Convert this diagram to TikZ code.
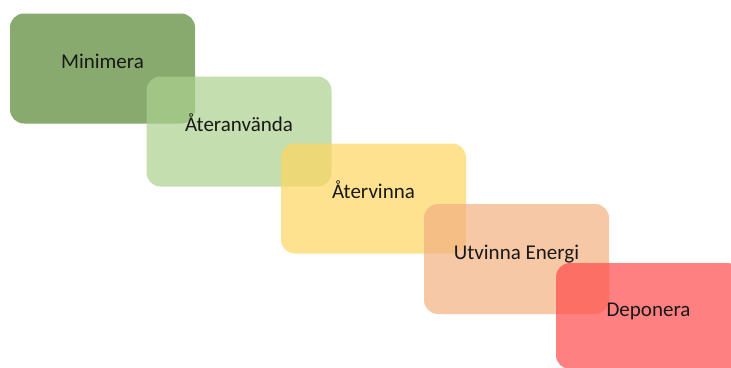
\documentclass[tikz,border=0pt]{standalone}
\usepackage{fontspec}
\setmainfont{Carlito}
\definecolor{cMin}{RGB}{85,134,48}
\definecolor{cAter}{RGB}{171,208,142}
\definecolor{cVin}{RGB}{255,214,95}
\definecolor{cUtv}{RGB}{242,176,128}
\definecolor{cDep}{RGB}{255,74,74}
\definecolor{txt}{RGB}{25,25,25}
\begin{document}
\begin{tikzpicture}[x=1pt,y=-1pt,
  stagebox/.style={rectangle, rounded corners=14pt, draw=none, fill opacity=0.7, text opacity=1,
    minimum width=185pt, minimum height=110pt, inner sep=0pt, text=txt,
    font=\fontsize{21}{25}\selectfont, text height=9pt, text depth=9pt}]
\useasboundingbox (0,0) rectangle (731,367);
\clip (0,0) rectangle (731,367);
\node[stagebox, fill=cMin]  (min) at (102.5,68.5)  {Minimera};
\node[stagebox, fill=cAter] (ate) at (239,131.5)   {Återanvända};
\node[stagebox, fill=cVin]  (vin) at (373.5,198.5) {Återvinna};
\node[stagebox, fill=cUtv]  (utv) at (516.5,259)   {Utvinna Energi};
\node[stagebox, fill=cDep, minimum height=106pt]  (dep) at (648.5,316)   {Deponera};
\end{tikzpicture}
\end{document}
